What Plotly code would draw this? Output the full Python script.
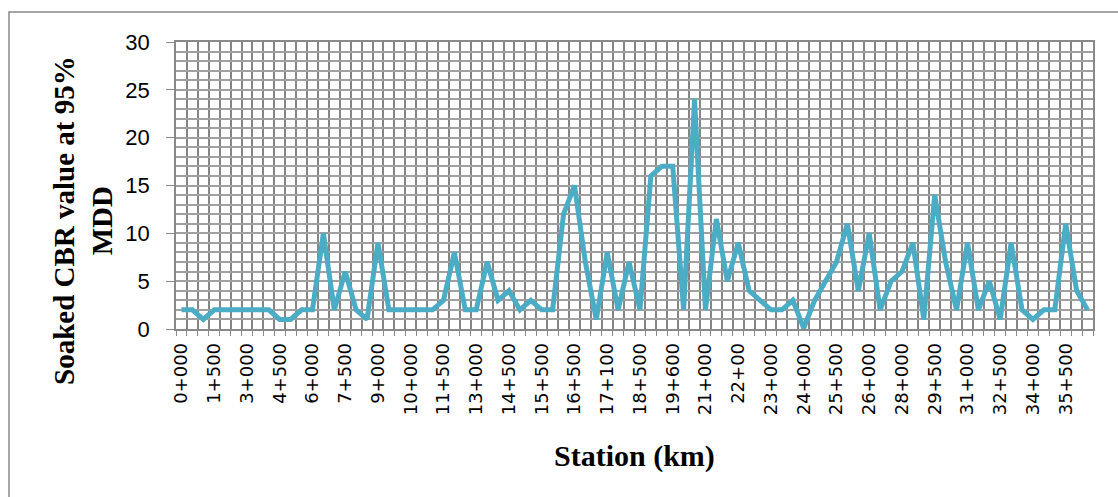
import plotly.graph_objects as go

# Soaked CBR values (%) at each station (category index order)
cbr = [2, 2, 1, 2, 2, 2, 2, 1.9, 2, 1, 1, 2, 2, 10, 2, 6, 2, 1, 9, 2,
       2, 2, 2, 2, 3, 8, 2, 2, 7, 3, 4, 2, 3, 2, 2, 12, 15, 7, 1, 8,
       2, 7, 2, 16, 17, 17, 2, 24, 2, 11.5, 5, 9, 4, 3, 2, 2, 3, 0.1, 3, 5,
       7, 11, 4, 10, 2, 5, 6, 9, 1, 14, 7, 2, 9, 2, 5, 1, 9, 2, 1, 2,
       2, 11, 4, 2]

# Station labels shown on the axis (every third category)
station_labels = ["0+000", "1+500", "3+000", "4+500", "6+000", "7+500", "9+000",
                  "10+000", "11+500", "13+000", "14+500", "15+500", "16+500",
                  "17+100", "18+500", "19+600", "21+000", "22+00", "23+000",
                  "24+000", "25+500", "26+000", "28+000", "29+500", "31+000",
                  "32+500", "34+000", "35+500"]
label_step = 3

x_idx = list(range(len(cbr)))
tick_pos = [i * label_step for i in range(len(station_labels))]

W, H = 1118, 497
L, R, T, B = 176, 25, 42, 168
pw = W - L - R
ph = H - T - B

def px_x(p):
    return (p - L) / pw

def px_y(p):
    return (H - B - p) / ph

fig = go.Figure(go.Scatter(
    x=x_idx, y=cbr, mode="lines",
    line=dict(color="#4bacc6", width=5),
    showlegend=False, hoverinfo="skip"))

grid_v = "#858585"
grid_h = "#a0a0a0"
axis_c = "#898989"

fig.update_layout(
    width=W, height=H, autosize=False,
    margin=dict(l=L, r=R, t=T, b=B),
    paper_bgcolor="white", plot_bgcolor="white",
    xaxis=dict(
        range=[-0.5, len(cbr) - 0.5],
        tickmode="array", tickvals=tick_pos, ticktext=station_labels,
        tickangle=-90, ticks="outside", ticklen=5, tickcolor="rgba(0,0,0,0)",
        tickfont=dict(family="DejaVu Sans", size=18, color="black"),
        showgrid=False, zeroline=False,
        showline=True, linecolor=axis_c, linewidth=1.5, mirror=True,
        minor=dict(tickmode="linear", tick0=-0.5, dtick=1, ticks="outside",
                   ticklen=5, tickcolor=axis_c, showgrid=True,
                   gridcolor=grid_v, gridwidth=1.5),
    ),
    yaxis=dict(
        range=[0, 30], dtick=5, tick0=0,
        ticks="outside", ticklen=8, tickcolor=axis_c,
        ticklabelstandoff=12,
        tickfont=dict(family="Liberation Sans", size=22, color="black"),
        showgrid=True, gridcolor=grid_h, gridwidth=1.5, zeroline=False,
        showline=True, linecolor=axis_c, linewidth=1.5, mirror=True,
        minor=dict(dtick=1, showgrid=True, gridcolor=grid_h, gridwidth=1.5),
    ),
    annotations=[
        dict(text="<b>Soaked CBR value at 95%<br>MDD</b>", textangle=-90,
             xref="paper", yref="paper", x=px_x(83), y=px_y(221),
             xanchor="center", yanchor="middle", showarrow=False,
             font=dict(family="Liberation Serif", size=29, color="black")),
        dict(text="<b>Station (km)</b>",
             xref="paper", yref="paper", x=px_x(634), y=px_y(456),
             xanchor="center", yanchor="middle", showarrow=False,
             font=dict(family="Liberation Serif", size=30, color="black")),
    ],
    shapes=[dict(type="rect", xref="paper", yref="paper",
                 x0=px_x(9), x1=1.3, y0=-1.0, y1=px_y(12),
                 line=dict(color=axis_c, width=1.5), fillcolor="rgba(0,0,0,0)",
                 layer="below")],
)

fig.write_html("out.html")
